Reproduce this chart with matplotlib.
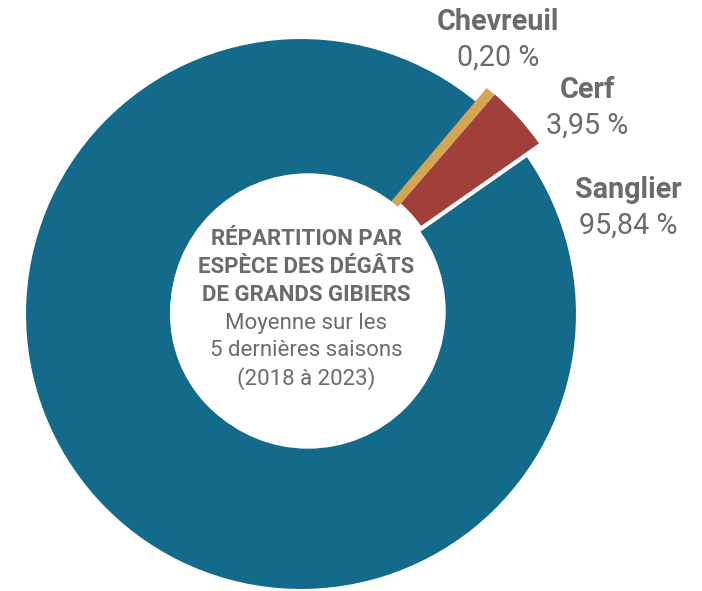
import matplotlib.pyplot as plt
from matplotlib.patches import Circle

plt.rcParams['font.family'] = ['Roboto', 'DejaVu Sans']

# data
especes = ["Cerf", "Chevreuil", "Sanglier"]
parts = [3.95, 0.20, 95.84]
couleurs = ["#a13f3a", "#d5a553", "#136a8a"]
ecarts = [18, 13, 0]   # explode offsets, in pixels (radius is in pixels too)
etiquettes = ["3,95 %", "0,20 %", "95,84 %"]

titre = ["RÉPARTITION PAR", "ESPÈCE DES DÉGÂTS", "DE GRANDS GIBIERS"]
sous_titre = ["Moyenne sur les", "5 dernières saisons", "(2018 à 2023)"]

gris = "#6b6b6b"
W, H = 702, 591

fig = plt.figure(figsize=(W / 100, H / 100), dpi=100)
ax = fig.add_axes([0, 0, 1, 1])

R = 276
wedges, _ = ax.pie(parts, colors=couleurs, startangle=35, counterclock=True,
                   explode=ecarts, radius=R, center=(301, H - 314),
                   wedgeprops=dict(width=146, edgecolor="white", linewidth=1.5),
                   frame=True)
# the tiny slice is drawn with a thick outline of its own colour so it shows
wedges[1].set_edgecolor(couleurs[1])
wedges[1].set_linewidth(5)
wedges[1].set_zorder(2)

# white disc for the centre text
ax.add_patch(Circle((308, H - 311), 137, color="white", zorder=3))

ax.set_xlim(0, W)
ax.set_ylim(0, H)
ax.set_aspect("equal")
ax.axis("off")

# slice labels
pos = {"Chevreuil": (498, 22), "Cerf": (587, 90), "Sanglier": (628, 190)}
for nom, lab in zip(especes, etiquettes):
    x, y = pos[nom]
    ax.text(x, H - y, nom, ha="center", va="center", fontsize=20.7,
            fontweight="bold", color=gris)
    ax.text(x, H - y - 36, lab, ha="center", va="center", fontsize=20.7,
            color=gris)

# centre text
y0 = 239
for i, ligne in enumerate(titre + sous_titre):
    ax.text(306, H - (y0 + i * 28), ligne, ha="center", va="center",
            fontsize=16, fontweight="bold" if i < 3 else "normal",
            color=gris, zorder=4)

fig.savefig("out.png", dpi=100)
